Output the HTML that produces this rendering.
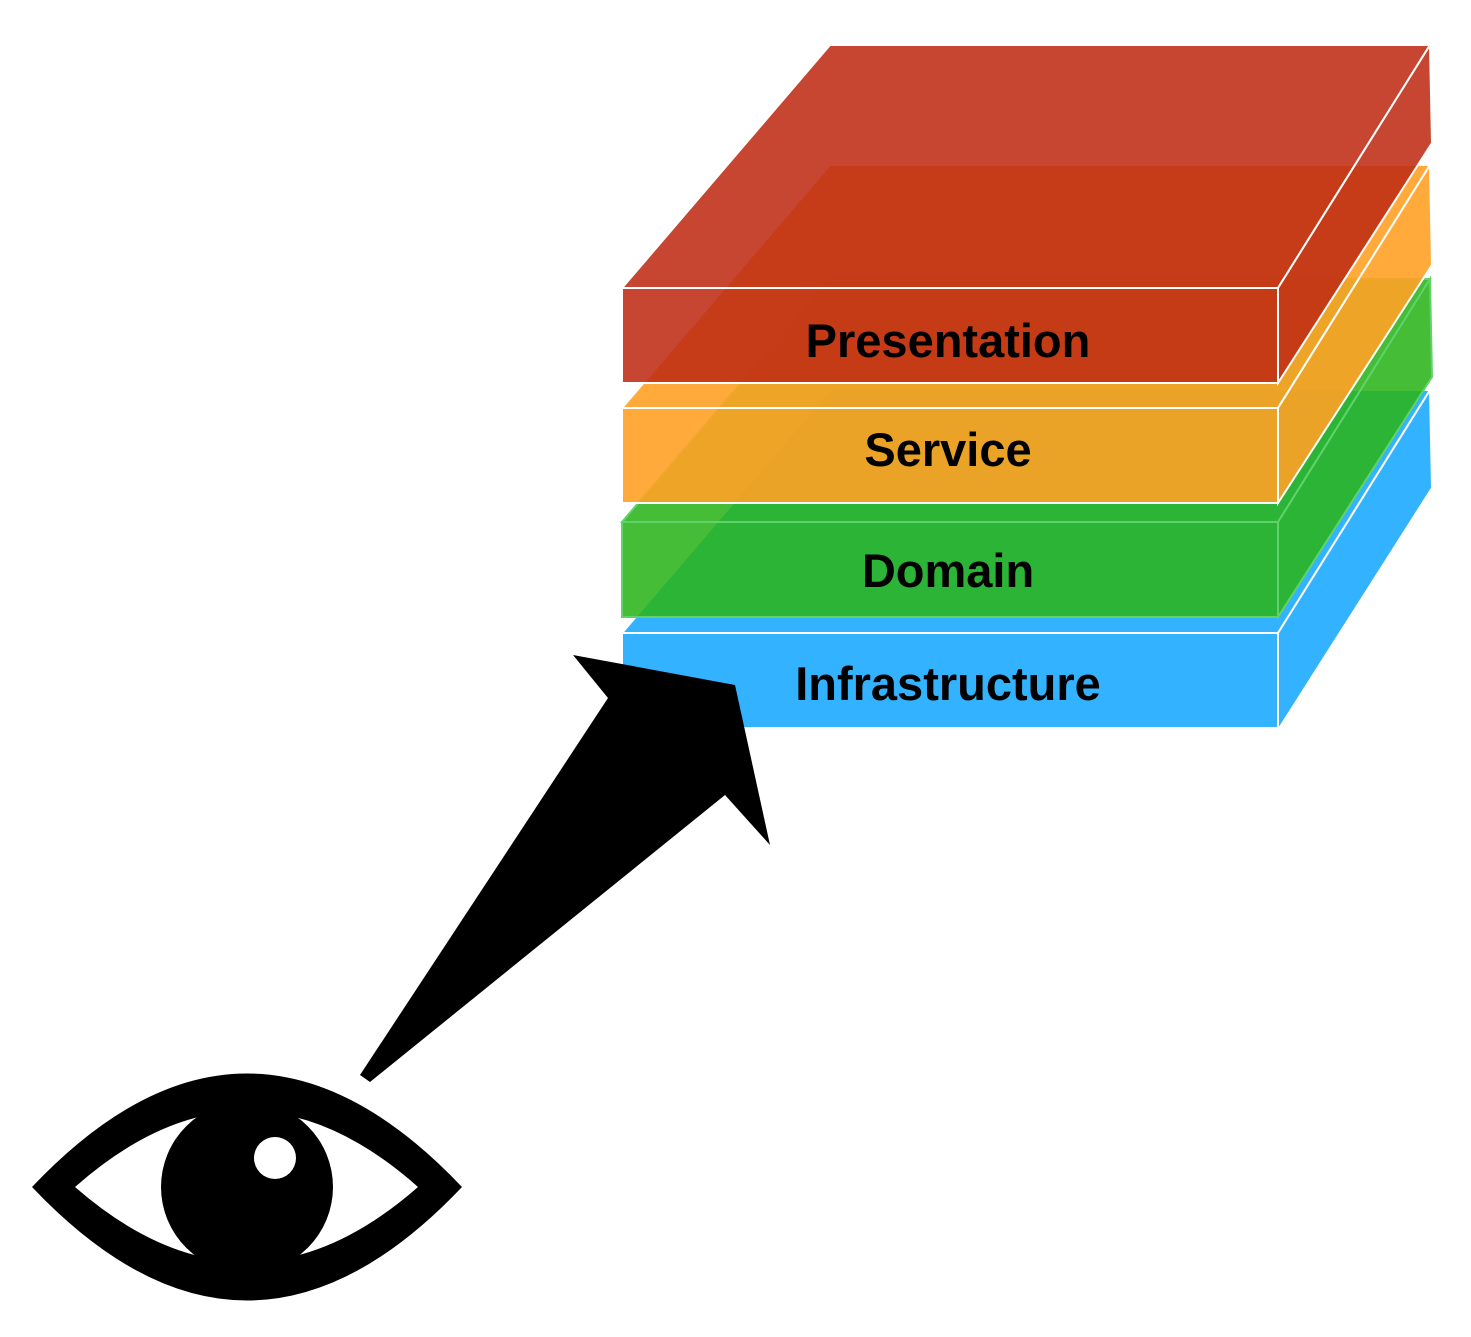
<!DOCTYPE html>
<html><head><meta charset="utf-8"><style>
html,body{margin:0;padding:0;background:#fff;}
svg{display:block;}
text{font-family:"Liberation Sans",sans-serif;font-weight:bold;font-size:47px;fill:#000;}
</style></head><body>
<svg width="1471" height="1337" viewBox="0 0 1471 1337" xmlns="http://www.w3.org/2000/svg">
<g fill="#33b3ff" stroke="#fff" stroke-width="2">
<polygon points="622,633 830,390 1430,390 1278,633"/>
<rect x="622" y="633" width="656" height="95"/>
<polygon points="1278,633 1430,390 1432,488 1278,730"/>
</g>
<g fill="#2bb41a" fill-opacity="0.88" stroke="#5fd36a" stroke-width="2">
<polygon points="622,522 830,279 1430,279 1278,522"/>
<rect x="622" y="522" width="656" height="95"/>
<polygon points="1278,522 1430,279 1432,377 1278,617"/>
</g>
<g fill="#ffa126" fill-opacity="0.9" stroke="#fff" stroke-width="2">
<polygon points="622,408 830,165 1430,165 1278,408"/>
<rect x="622" y="408" width="656" height="95"/>
<polygon points="1278,408 1430,165 1432,265 1278,503"/>
</g>
<g fill="#be2c14" fill-opacity="0.88" stroke="#fff" stroke-width="2">
<polygon points="622,288 830,45 1430,45 1278,288"/>
<rect x="622" y="288" width="656" height="95"/>
<polygon points="1278,288 1430,45 1432,143 1278,383"/>
</g>
<text x="948" y="357" text-anchor="middle">Presentation</text>
<text x="948" y="466" text-anchor="middle">Service</text>
<text x="948" y="587" text-anchor="middle">Domain</text>
<text x="948" y="700" text-anchor="middle">Infrastructure</text>
<polygon points="573,655 735,685 770,845 725,795 370,1082 360,1075 608,698" fill="#000"/>
<path fill="#000" fill-rule="evenodd" d="M32,1187 Q247,960 462,1187 Q247,1414 32,1187 Z M75,1187 Q247,1035 418,1187 Q247,1337 75,1187 Z"/>
<circle cx="247" cy="1187" r="86" fill="#000"/>
<circle cx="275" cy="1158" r="21" fill="#fff"/>
</svg>
</body></html>
